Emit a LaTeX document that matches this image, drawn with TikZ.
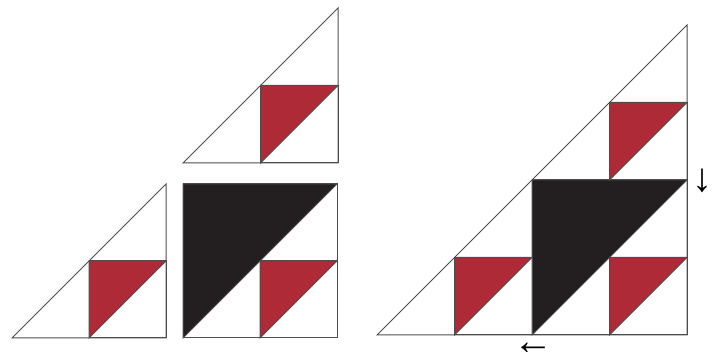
\documentclass[tikz,border=0pt]{standalone}
\usepackage{fontspec}
\newfontfamily\arrowfont{Liberation Sans}
\definecolor{edge}{HTML}{4D4D4D}
\definecolor{quiltred}{HTML}{AF2A37}
\definecolor{quiltblack}{HTML}{231F20}
\newcommand{\bigtri}[3]{%
  \draw[edge,line width=0.5pt] (#1,#2) -- ++(#3,0) -- ++(0,#3) -- cycle;}
\newcommand{\patch}[4]{%
  \draw[edge,line width=0.5pt] (#1,#2) rectangle ++(#3,#3);
  \filldraw[fill=#4,draw=edge,line width=0.5pt]
        (#1,#2) -- ++(0,#3) -- ++(#3,0) -- cycle;}

\begin{document}
\begin{tikzpicture}[x=0.5pt,y=0.5pt]
  \useasboundingbox (0,0) rectangle (719,352);

  \bigtri{183}{189}{155}
  \patch{260.5}{189}{77.5}{quiltred}

  \bigtri{12}{14}{154}
  \patch{89}{14}{77}{quiltred}

  \patch{183}{14}{154}{quiltblack}
  \patch{260}{14}{77}{quiltred}

  \bigtri{377}{17}{310}
  \patch{532}{17}{155}{quiltblack}
  \foreach \x/\y in {609.5/172,454.5/17,609.5/17}{%
    \patch{\x}{\y}{77.5}{quiltred}}

  \node[font=\arrowfont\fontsize{20}{20}\selectfont,inner sep=0pt]
       (arrowdown) at (702,171) {↓};
  \node[font=\arrowfont\fontsize{20}{20}\selectfont,inner sep=0pt]
       (arrowleft) at (533,3) {←};
\end{tikzpicture}
\end{document}
